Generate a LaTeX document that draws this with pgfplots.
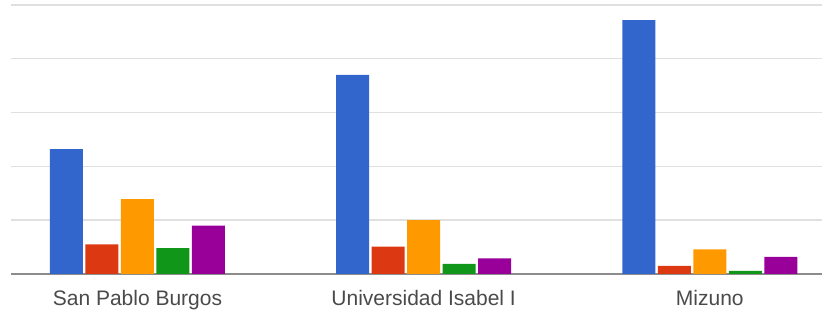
\documentclass[border=0pt]{standalone}
\usepackage{pgfplots}
\pgfplotsset{compat=1.18}
\usepackage{fontspec}
\setmainfont{Liberation Sans}
\definecolor{gblue}{HTML}{3366CC}
\definecolor{gred}{HTML}{DC3912}
\definecolor{gorange}{HTML}{FF9900}
\definecolor{ggreen}{HTML}{109618}
\definecolor{gpurple}{HTML}{990099}
\definecolor{gridc}{HTML}{E0E0E0}
\definecolor{basec}{HTML}{8C8C8C}
\definecolor{labc}{HTML}{4A4A4A}
\begin{document}
\begin{tikzpicture}
\begin{axis}[
  at={(0,0)}, anchor=south west,
  scale only axis, width=811pt, height=274pt,
  xmin=-0.442, xmax=2.392, ymin=0, ymax=5.093,
  enlargelimits=false,
  ybar=2.5pt, bar width=33pt,
  axis x line*=bottom,
  axis y line*=left,
  x axis line style={-, draw=basec, line width=1.6pt},
  y axis line style={draw=none},
  xtick={0,1,2},
  xticklabels={San Pablo Burgos, Universidad Isabel I, Mizuno},
  xtick style={draw=none},
  ytick={1,2,3,4,5},
  yticklabels={},
  ytick style={draw=none},
  ymajorgrids,
  grid style={draw=gridc, line width=1.4pt},
  ticklabel style={font=\fontsize{21}{24}\selectfont, text=labc},
  xticklabel style={yshift=-8pt},
  clip=false,
]
\addplot[fill=gblue, draw=none] coordinates {(0,2.32) (1,3.70) (2,4.72)};
\addplot[fill=gred, draw=none] coordinates {(0,0.55) (1,0.51) (2,0.15)};
\addplot[fill=gorange, draw=none] coordinates {(0,1.39) (1,1.00) (2,0.46)};
\addplot[fill=ggreen, draw=none] coordinates {(0,0.48) (1,0.19) (2,0.06)};
\addplot[fill=gpurple, draw=none] coordinates {(0,0.90) (1,0.29) (2,0.32)};
\end{axis}
\pgfresetboundingbox
\path[use as bounding box] (-11pt,-39pt) rectangle (811pt,274pt);
\end{tikzpicture}
\end{document}
